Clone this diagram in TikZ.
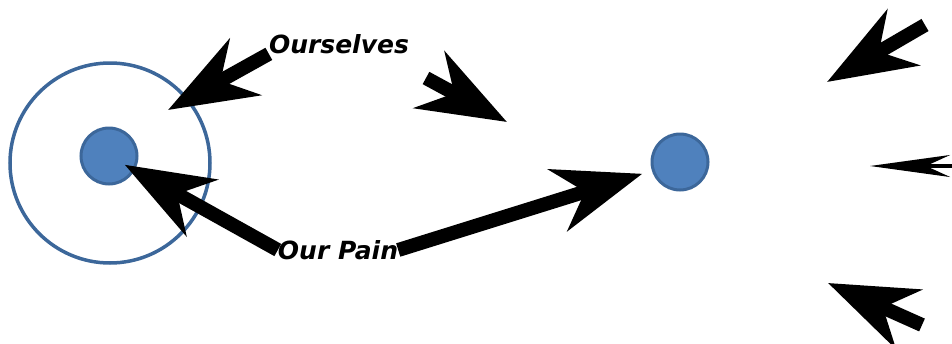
\documentclass[tikz,border=0pt]{standalone}
\usepackage{fontspec}
\newfontfamily\handfont{DejaVu Sans}
\usetikzlibrary{arrows.meta}
\definecolor{dotblue}{HTML}{4F81BD}
\definecolor{rimblue}{HTML}{3C679A}

\begin{document}
\begin{tikzpicture}[x=1pt, y=-1pt,
  bigarrow/.style={-{Stealth[length=88pt, width=64pt, inset=28pt]}, line width=14pt},
  thinarrow/.style={-{Stealth[length=80pt, width=22pt, inset=24pt]}, line width=4pt},
  dot/.style={circle, fill=dotblue, draw=rimblue, line width=3pt, minimum size=56pt, inner sep=0pt},
  ring/.style={circle, draw=rimblue, line width=3.5pt, minimum size=200pt, inner sep=0pt},
  tag/.style={font=\handfont\bfseries\itshape\fontsize{25}{25}\selectfont, inner sep=0pt}]
\useasboundingbox (0,0) rectangle (952,343);
\clip (0,0) rectangle (952,343);
\node[ring] (outer) at (110,163) {};
\node[dot] (self) at (109,156) {};
\node[dot] (other) at (680,162) {};
\node[tag] (ourselves) at (339,44) {Ourselves};
\node[tag] (pain) at (338,250) {Our Pain};
% free ends
\coordinate (ringhit) at (168,110);
\coordinate (driftfrom) at (426,78);
\coordinate (driftto) at (507,122);
\coordinate (nefrom) at (925,25);
\coordinate (neto) at (827,82);
\coordinate (eastfrom) at (1010,166);
\coordinate (eastto) at (870,166);
\coordinate (sefrom) at (922,325);
\coordinate (seto) at (828,283);
% arrows
\draw[bigarrow] (ourselves.south west) -- (ringhit);
\draw[bigarrow] (driftfrom) -- (driftto);
\draw[bigarrow, shorten >=18pt] (pain.west) -- (self.center);
\draw[bigarrow, shorten >=10pt] (pain.east) -- (other);
\draw[bigarrow] (nefrom) -- (neto);
\draw[thinarrow] (eastfrom) -- (eastto);
\draw[bigarrow] (sefrom) -- (seto);
\end{tikzpicture}
\end{document}
